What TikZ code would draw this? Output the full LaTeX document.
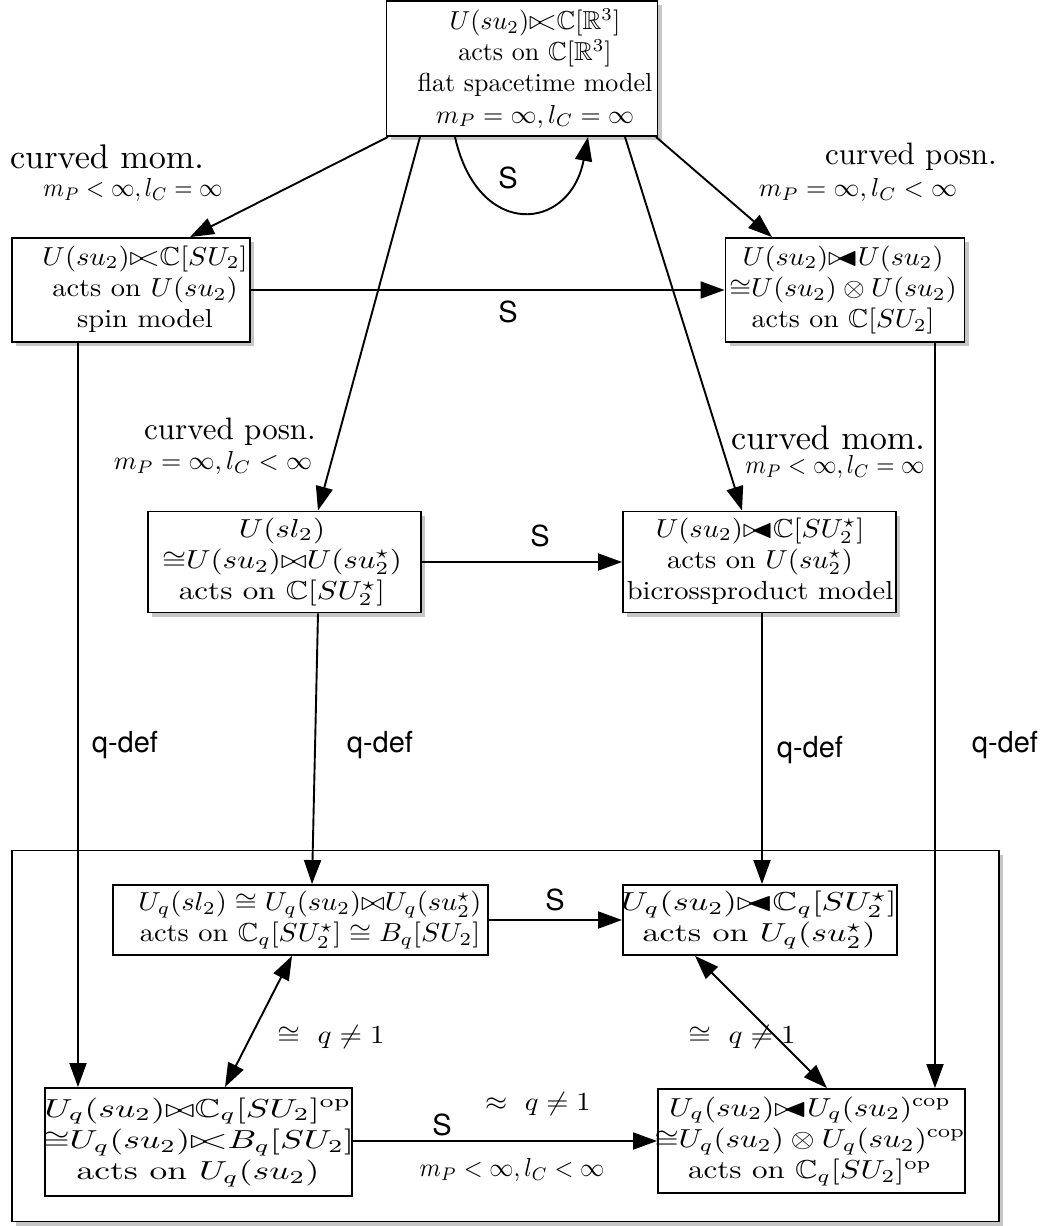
\documentclass[tikz,border=0pt]{standalone}
\usepackage{amssymb}
\usepackage{graphicx}
\usepackage{fontspec}
\newfontfamily\hv{TeX Gyre Heros}
\usetikzlibrary{arrows.meta,shadows}
\newcommand{\lcross}{{\triangleright\!\!\!<}}
\newcommand{\bicross}{{\triangleright\!\!\!\blacktriangleleft}}
\newcommand{\bt}[2]{\scalebox{#1}[2.6]{\begin{tabular}{@{}c@{}}#2\end{tabular}}}
\newcommand{\ml}[2]{\scalebox{#1}[2.6]{#2}}
\begin{document}
\begin{tikzpicture}[x=1pt,y=-1pt,
  box/.style={draw,line width=1.9pt,fill=white,inner sep=0pt},
  shbox/.style={box,drop shadow={shadow xshift=4pt,shadow yshift=-4pt,opacity=0.45}},
  txt/.style={inner sep=0pt,align=center},
  arr/.style={line width=1.9pt,-{Triangle[length=24pt,width=17pt]}},
  darr/.style={line width=1.9pt,{Triangle[length=24pt,width=17pt]}-{Triangle[length=24pt,width=17pt]}},
  sl/.style={font=\hv\fontsize{29}{33}\selectfont,inner sep=0pt}]
\useasboundingbox (0,0) rectangle (1040,1226);
% frame
\node[shbox,minimum width=987pt,minimum height=371pt] (frame) at (505.5,1036) {};
% boxes
\node[shbox,minimum width=271pt,minimum height=135pt] (top) at (522,68.5) {};
\node[txt] (topT) at (535,70)
  {\bt{2.6}{$U(su_2)\lcross\mathbb{C}[\mathbb{R}^3]$\\ acts on $\mathbb{C}[\mathbb{R}^3]$\\ flat spacetime model\\ $m_P=\infty,l_C=\infty$}};
\node[shbox,minimum width=238pt,minimum height=104pt] (spin) at (131,290) {};
\node[txt] (spinT) at (145,290)
  {\bt{2.85}{$U(su_2)\lcross\mathbb{C}[SU_2]$\\ acts on $U(su_2)$\\ spin model}};
\node[shbox,minimum width=239pt,minimum height=104pt] (rgt) at (845,290) {};
\node[txt] (rgtT) at (843,290)
  {\bt{2.8}{$U(su_2)\bicross U(su_2)$\\ ${\cong}U(su_2)\otimes U(su_2)$\\ acts on $\mathbb{C}[SU_2]$}};
\node[shbox,minimum width=273pt,minimum height=101pt] (midL) at (284.5,562) {};
\node[txt] (midLT) at (282,562)
  {\bt{3.1}{$U(sl_2)$\\ ${\cong}U(su_2){\bowtie}U(su_2^\star)$\\ acts on $\mathbb{C}[SU_2^\star]$}};
\node[shbox,minimum width=273pt,minimum height=101pt] (midR) at (759.5,562) {};
\node[txt] (midRT) at (760,562)
  {\bt{2.85}{$U(su_2)\bicross\mathbb{C}[SU_2^\star]$\\ acts on $U(su_2^\star)$\\ bicrossproduct model}};
\node[box,minimum width=375pt,minimum height=70pt] (qL) at (300.5,920) {};
\node[txt] (qLT) at (310,920)
  {\bt{2.84}{$U_q(sl_2)\cong U_q(su_2){\bowtie}U_q(su_2^\star)$\\ acts on $\mathbb{C}_q[SU_2^\star]\cong B_q[SU_2]$}};
\node[box,minimum width=274pt,minimum height=70pt] (qR) at (760,920) {};
\node[txt] (qRT) at (759,920)
  {\bt{3.4}{$U_q(su_2)\bicross\mathbb{C}_q[SU_2^\star]$\\ acts on $U_q(su_2^\star)$}};
\node[box,minimum width=307pt,minimum height=108pt] (bL) at (198.5,1142) {};
\node[txt] (bLT) at (198,1142)
  {\bt{3.55}{$U_q(su_2){\bowtie}\mathbb{C}_q[SU_2]^{\mathrm{op}}$\\ ${\cong}U_q(su_2)\lcross B_q[SU_2]$\\ acts on $U_q(su_2)$}};
\node[box,minimum width=307pt,minimum height=104pt] (bR) at (811.5,1141) {};
\node[txt] (bRT) at (810,1141)
  {\bt{3.1}{$U_q(su_2)\bicross U_q(su_2)^{\mathrm{cop}}$\\ ${\cong}U_q(su_2)\otimes U_q(su_2)^{\mathrm{cop}}$\\ acts on $\mathbb{C}_q[SU_2]^{\mathrm{op}}$}};
% labels
\node[txt] (l1) at (107,157) {\scalebox{3.42}{curved mom.}};
\node[txt] (l1b) at (133,190) {\ml{2.35}{$m_P<\infty,l_C=\infty$}};
\node[txt] (l2) at (911,157) {\scalebox{3.1}{curved posn.}};
\node[txt] (l2b) at (858,190) {\ml{2.6}{$m_P=\infty,l_C<\infty$}};
\node[txt] (l3) at (230,432) {\scalebox{3.1}{curved posn.}};
\node[txt] (l3b) at (213,463) {\ml{2.6}{$m_P=\infty,l_C<\infty$}};
\node[txt] (l4) at (828,438) {\scalebox{3.42}{curved mom.}};
\node[txt] (l4b) at (835,467) {\ml{2.35}{$m_P<\infty,l_C=\infty$}};
% arrows from top
\draw[arr] ([xshift=-134pt]top.south) -- ([xshift=59pt]spin.north);
\draw[arr] ([xshift=134pt]top.south) -- ([xshift=-73pt]rgt.north);
\draw[arr] ([xshift=-102pt]top.south) -- ([xshift=33.5pt]midL.north);
\draw[arr] ([xshift=103pt]top.south) -- ([xshift=-17.5pt]midR.north);
\draw[arr] ([xshift=-67pt]top.south) .. controls (478,240) and (570,232) .. ([xshift=66pt]top.south);
\node[sl] (s0) at (508,178) {S};
% horizontal
\draw[arr] (spin.east) -- (rgt.west);
\node[sl] (s1) at (508,312) {S};
\draw[arr] (midL.east) -- (midR.west);
\node[sl] (s2) at (540,536) {S};
\draw[arr] (qL.east) -- (qR.west);
\node[sl] (s3) at (555,900) {S};
\draw[arr] (bR.west -| bL.east) -- (bR.west);
\node[sl] (s4) at (442,1125) {S};
\node[txt] (b1) at (538,1104) {\ml{2.85}{$\approx\ q\neq 1$}};
\node[txt] (b2) at (512,1170) {\ml{2.42}{$m_P<\infty,l_C<\infty$}};
% verticals
\draw[arr] ([xshift=-53pt]spin.south) -- ([xshift=-120.5pt]bL.north);
\node[sl] (q1) at (125,745) {q-def};
\draw[arr] ([xshift=90pt]rgt.south) -- ([xshift=123.5pt]bR.north);
\node[sl] (q2) at (1005,745) {q-def};
\draw[arr] ([xshift=33.5pt]midL.south) -- ([xshift=11.5pt]qL.north);
\node[sl] (q3) at (380,745) {q-def};
\draw[arr] ([xshift=2.5pt]midR.south) -- ([xshift=2pt]qR.north);
\node[sl] (q4) at (810,750) {q-def};
% double arrows
\draw[darr] ([xshift=-8.5pt]qL.south) -- ([xshift=26.5pt]bL.north);
\node[txt] (c1) at (331,1037) {\ml{2.9}{$\cong\ q\neq 1$}};
\draw[darr] ([xshift=-65pt]qR.south) -- ([xshift=15.5pt]bR.north);
\node[txt] (c2) at (742,1037) {\ml{2.9}{$\cong\ q\neq 1$}};
\end{tikzpicture}
\end{document}
